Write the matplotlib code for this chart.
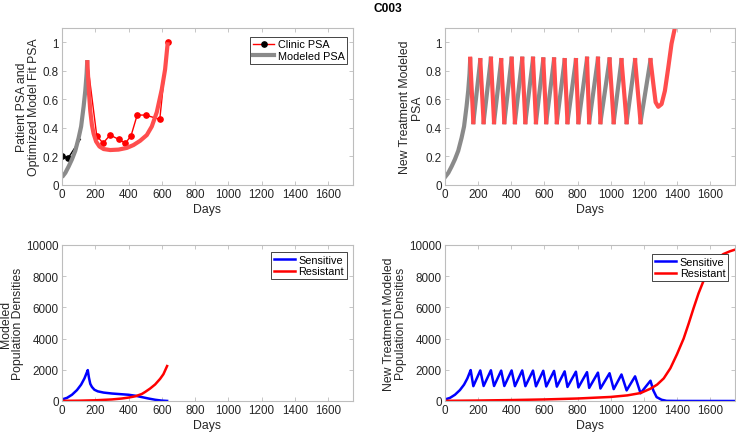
import matplotlib
matplotlib.use("Agg")
import matplotlib.pyplot as plt
from matplotlib.lines import Line2D
from matplotlib.ticker import FormatStrFormatter

plt.rcParams['font.family'] = ['Liberation Sans', 'DejaVu Sans']

# ---------------- data ----------------
# Top-left: clinic PSA and fitted model
clinic_black_days = [0, 38, 110]
clinic_black_psa = [0.20, 0.19, 0.32]
clinic_red_days = [152, 209, 247, 289, 341, 381, 415, 452, 503, 588, 636]
clinic_red_psa = [0.87, 0.345, 0.293, 0.35, 0.32, 0.293, 0.344, 0.49, 0.49, 0.46, 1.0]

fit_gray_days = [0, 20, 40, 60, 80, 100, 115, 130, 140, 148, 152]
fit_gray_psa = [0.055, 0.085, 0.13, 0.18, 0.24, 0.33, 0.41, 0.55, 0.66, 0.78, 0.875]
fit_red_days = [152, 156, 162, 170, 180, 190, 205, 225, 250, 290, 340, 390, 430,
                470, 510, 540, 570, 600, 620, 636]
fit_red_psa = [0.875, 0.78, 0.65, 0.52, 0.42, 0.36, 0.305, 0.27, 0.252, 0.245,
               0.248, 0.26, 0.28, 0.31, 0.35, 0.41, 0.51, 0.67, 0.81, 1.0]

# Top-right: new treatment modeled PSA (cycles)
nt_rise_days = [0, 20, 40, 60, 80, 100, 115, 130, 140, 148, 152]
nt_rise_psa = [0.055, 0.085, 0.13, 0.18, 0.24, 0.33, 0.41, 0.55, 0.66, 0.78, 0.88]
nt_peak_days = [152, 213, 277, 339, 402, 466, 531, 593, 658, 722, 790, 857,
                923, 993, 1065, 1147, 1240]
nt_peak_psa = [0.885, 0.875, 0.885, 0.875, 0.885, 0.885, 0.885, 0.88, 0.88,
               0.875, 0.875, 0.885, 0.885, 0.88, 0.875, 0.875, 0.875]
nt_trough_days = [171, 233, 296, 358, 422, 485, 549, 611, 675, 739, 805, 870,
                  938, 1018, 1096, 1180]
nt_trough_psa = [0.44, 0.44, 0.44, 0.44, 0.44, 0.44, 0.44, 0.44, 0.44, 0.44,
                 0.44, 0.44, 0.44, 0.44, 0.44, 0.44]
nt_end_days = [1240, 1257, 1271, 1287, 1307, 1327, 1347, 1367, 1388, 1410]
nt_end_psa = [0.875, 0.71, 0.58, 0.548, 0.567, 0.66, 0.82, 0.99, 1.105, 1.25]

# Bottom-left: modeled population densities
pop_sens_days = [0, 30, 60, 90, 115, 135, 150, 155, 162, 170, 180, 195, 215, 250,
                 300, 350, 400, 440, 480, 520, 560, 600, 632]
pop_sens = [100, 200, 400, 700, 1050, 1450, 1850, 1980, 1500, 1100, 900, 720, 620,
            540, 480, 440, 400, 340, 250, 160, 80, 25, 5]
pop_res_days = [0, 100, 200, 300, 360, 400, 440, 480, 500, 530, 560, 590, 610, 632]
pop_res = [10, 20, 45, 100, 160, 220, 300, 450, 580, 800, 1060, 1420, 1720, 2240]

# Bottom-right: new treatment population densities
nts_rise_days = [0, 30, 60, 90, 115, 135, 150, 155]
nts_rise = [100, 200, 400, 700, 1050, 1450, 1850, 1980]
nts_peak_days = [155, 213, 277, 339, 402, 466, 531, 593, 658, 722, 790, 857,
                 923, 993, 1065, 1147, 1240]
nts_peak = [1980, 1960, 1970, 1950, 1960, 1960, 1950, 1940, 1930, 1900, 1880,
            1850, 1820, 1780, 1700, 1580, 1300]
nts_trough_days = [171, 233, 296, 358, 422, 485, 549, 611, 675, 739, 805, 870,
                   938, 1018, 1096, 1180]
nts_trough = [950, 960, 960, 960, 950, 950, 940, 930, 920, 900, 870, 840, 800,
              760, 680, 500]
nts_end_days = [1240, 1257, 1277, 1307, 1337, 1400, 1750]
nts_end = [1300, 680, 250, 80, 10, 2, 0]
ntr_days = [0, 200, 400, 600, 800, 1000, 1100, 1180, 1240, 1280, 1320, 1360,
            1400, 1440, 1470, 1500, 1530, 1560, 1590, 1620, 1650, 1680, 1720, 1750]
ntr = [10, 30, 60, 100, 160, 260, 360, 510, 790, 1050, 1450, 2100, 3000, 4000,
       4950, 5950, 6900, 7700, 8350, 8850, 9200, 9420, 9600, 9700]

xticks = [0, 200, 400, 600, 800, 1000, 1200, 1400, 1600]
psa_ticks = [0, 0.2, 0.4, 0.6, 0.8, 1]
pop_ticks = [0, 2000, 4000, 6000, 8000, 10000]

# ---------------- styling ----------------
W, H = 736, 435
fig = plt.figure(figsize=(W / 100, H / 100), dpi=100)

RED_T = '#ff4d4d'
GRAY_T = '#8a8a8a'
SPINE = '#bdbdbd'
TXT = '#262626'
TICK_FS = 8.4
LAB_FS = 8.8
LEG_FS = 7.8


def make_ax(l, r, t, b):
    ax = fig.add_axes([l / W, (H - b) / H, (r - l) / W, (b - t) / H])
    for s in ax.spines.values():
        s.set_color(SPINE)
        s.set_linewidth(0.8)
    ax.tick_params(direction='in', top=True, right=True, length=3, width=0.6,
                   color=SPINE, labelcolor=TXT, labelsize=TICK_FS, pad=2.5)
    ax.set_xlim(0, 1750)
    ax.set_xticks(xticks)
    ax.set_xlabel('Days', fontsize=LAB_FS, color=TXT, labelpad=1.5)
    return ax


def leg(ax, handles, labels, anchor):
    lg = ax.legend(handles, labels, loc='upper right', bbox_to_anchor=anchor,
                   borderaxespad=0, fancybox=False, framealpha=1,
                   edgecolor='#262626', fontsize=LEG_FS, handlelength=2.0,
                   handletextpad=0.3, borderpad=0.25, labelspacing=0.15)
    lg.get_frame().set_linewidth(0.6)
    return lg


# Top-left
ax1 = make_ax(62, 353, 29, 186)
ax1.plot(clinic_black_days, clinic_black_psa, '-o', color='black', lw=1.0, ms=3.8,
         markevery=[0, 1])
ax1.plot(clinic_red_days, clinic_red_psa, '-o', color='red', lw=1.0, ms=3.8,
         markevery=list(range(1, len(clinic_red_days))))
ax1.plot(fit_gray_days, fit_gray_psa, color=GRAY_T, lw=3.0, solid_capstyle='butt')
ax1.plot(fit_red_days, fit_red_psa, color=RED_T, lw=3.0, solid_capstyle='butt')
ax1.set_ylim(0, 1.1)
ax1.set_yticks(psa_ticks)
ax1.yaxis.set_major_formatter(FormatStrFormatter('%g'))
ax1.set_ylabel('Patient PSA and\nOptimized Model Fit PSA', fontsize=LAB_FS,
               color=TXT, labelpad=2, linespacing=1.0)
h1 = [Line2D([], [], color='red', lw=1.0, marker='o', mfc='black', mec='black', ms=3.8),
      Line2D([], [], color=GRAY_T, lw=3.0)]
leg(ax1, h1, ['Clinic PSA', 'Modeled PSA'], (0.98, 0.945))

# Top-right
ax2 = make_ax(445, 735, 29, 186)
ax2.plot(nt_rise_days, nt_rise_psa, color=GRAY_T, lw=3.0)
for i in range(len(nt_trough_days)):
    ax2.plot([nt_trough_days[i], nt_peak_days[i + 1]],
             [nt_trough_psa[i], nt_peak_psa[i + 1]], color=GRAY_T, lw=3.0)
for i in range(len(nt_trough_days)):
    ax2.plot([nt_peak_days[i], nt_trough_days[i]],
             [nt_peak_psa[i], nt_trough_psa[i]], color=RED_T, lw=3.0)
ax2.plot(nt_end_days, nt_end_psa, color=RED_T, lw=3.0)
ax2.set_ylim(0, 1.1)
ax2.set_yticks(psa_ticks)
ax2.yaxis.set_major_formatter(FormatStrFormatter('%g'))
ax2.set_ylabel('New Treatment Modeled\nPSA', fontsize=LAB_FS, color=TXT,
               labelpad=2, linespacing=1.0)

# Bottom-left
ax3 = make_ax(62, 353, 246, 402)
ax3.plot(pop_sens_days, pop_sens, color='#0000ff', lw=1.8)
ax3.plot(pop_res_days, pop_res, color='#ff0000', lw=1.8)
ax3.set_ylim(0, 10000)
ax3.set_yticks(pop_ticks)
ax3.set_ylabel('Modeled\nPopulation Densities', fontsize=LAB_FS, color=TXT,
               labelpad=1.5, linespacing=1.0)
h3 = [Line2D([], [], color='#0000ff', lw=1.8), Line2D([], [], color='#ff0000', lw=1.8)]
leg(ax3, h3, ['Sensitive', 'Resistant'], (0.979, 0.955))

# Bottom-right
ax4 = make_ax(445, 735, 246, 402)
sd, sv = list(nts_rise_days), list(nts_rise)
for i in range(len(nts_trough_days)):
    sd += [nts_trough_days[i], nts_peak_days[i + 1]]
    sv += [nts_trough[i], nts_peak[i + 1]]
sd += nts_end_days[1:]
sv += nts_end[1:]
ax4.plot(sd, sv, color='#0000ff', lw=1.8)
ax4.plot(ntr_days, ntr, color='#ff0000', lw=1.8)
ax4.set_ylim(0, 10000)
ax4.set_yticks(pop_ticks)
ax4.set_ylabel('New Treatment Modeled\nPopulation Densities', fontsize=LAB_FS,
               color=TXT, labelpad=1.5, linespacing=1.0)
leg(ax4, h3, ['Sensitive', 'Resistant'], (0.976, 0.942))

fig.text(388 / W, 1 - 9 / H, 'C003', ha='center', va='center', fontsize=8.6,
         fontweight='bold', color='black')

fig.savefig('out.png', dpi=100)
